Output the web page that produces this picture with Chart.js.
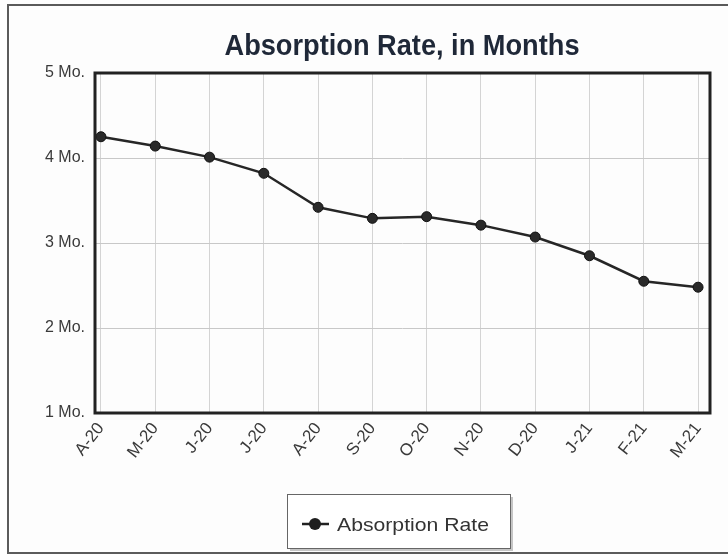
<!DOCTYPE html>
<html>
<head>
<meta charset="utf-8">
<script src="https://cdn.jsdelivr.net/npm/chart.js@4"></script>
<style>
  html, body { margin: 0; padding: 0; background: #fdfdfd; }
  #wrap { position: relative; width: 728px; height: 560px; overflow: hidden; }
  #frame { position: absolute; left: 7px; top: 4px; width: 740px; height: 550px; border: 2px solid #5a5a5a; box-sizing: border-box; }
  canvas { position: absolute; left: 0; top: 0; }
</style>
</head>
<body>
<div id="wrap">
  <div id="frame"></div>
  <canvas id="absorptionChart" width="728" height="560"></canvas>
</div>
<script>
// données
const months = ['A-20', 'M-20', 'J-20', 'J-20', 'A-20', 'S-20', 'O-20', 'N-20', 'D-20', 'J-21', 'F-21', 'M-21'];
const absorptionRate = [4.25, 4.14, 4.01, 3.82, 3.42, 3.29, 3.31, 3.21, 3.07, 2.85, 2.55, 2.48];
const yTicks = [1, 2, 3, 4, 5];

const chartTitle = 'Absorption Rate, in Months';
const seriesLabel = 'Absorption Rate';
const FONT = '"Liberation Sans", Arial, sans-serif';

// texte tassé horizontalement pour coller à la largeur voulue
function fitText(ctx, text, x, y, width) {
  const w = ctx.measureText(text).width;
  ctx.save();
  ctx.translate(x, y);
  ctx.scale(width / w, 1);
  ctx.fillText(text, 0, 0);
  ctx.restore();
}

// cadre épais + titre + légende encadrée
const framePlugin = {
  id: 'framePlugin',
  afterDraw(chart) {
    const { ctx, chartArea: a } = chart;
    ctx.save();
    ctx.strokeStyle = '#222';
    ctx.lineWidth = 3;
    ctx.strokeRect(a.left, a.top, a.right - a.left, a.bottom - a.top);

    ctx.fillStyle = '#1f2838';
    ctx.font = 'bold 29px ' + FONT;
    ctx.textAlign = 'center';
    ctx.textBaseline = 'alphabetic';
    fitText(ctx, chartTitle, 402, 55, 355);

    // légende
    const bx = 287, by = 494, bw = 223, bh = 54;
    ctx.fillStyle = 'rgba(0,0,0,0.22)';
    ctx.fillRect(bx + 3, by + 3, bw, bh);
    ctx.fillStyle = '#fff';
    ctx.fillRect(bx, by, bw, bh);
    ctx.strokeStyle = '#666';
    ctx.lineWidth = 1;
    ctx.strokeRect(bx + 0.5, by + 0.5, bw, bh);
    const cy = 524;
    ctx.strokeStyle = '#222';
    ctx.lineWidth = 2.5;
    ctx.beginPath();
    ctx.moveTo(302, cy);
    ctx.lineTo(329, cy);
    ctx.stroke();
    ctx.fillStyle = '#1e1e1e';
    ctx.beginPath();
    ctx.arc(315, cy, 6, 0, Math.PI * 2);
    ctx.fill();
    ctx.font = '19px ' + FONT;
    ctx.textAlign = 'left';
    ctx.fillStyle = '#333';
    fitText(ctx, seriesLabel, 337, 531, 152);
    ctx.restore();
  }
};

new Chart(document.getElementById('absorptionChart'), {
  type: 'line',
  data: {
    datasets: [{
      label: seriesLabel,
      data: absorptionRate.map((v, i) => ({ x: i, y: v })),
      borderColor: '#262626',
      backgroundColor: '#2a2a2a',
      borderWidth: 2.5,
      pointRadius: 5,
      pointBorderWidth: 1,
      pointBorderColor: '#111',
      tension: 0
    }]
  },
  options: {
    responsive: false,
    animation: false,
    layout: { padding: { top: 73, right: 18, left: 0, bottom: 0 } },
    plugins: { legend: { display: false }, title: { display: false }, tooltip: { enabled: false } },
    scales: {
      x: {
        type: 'linear',
        min: -0.11,
        max: 11.22,
        afterBuildTicks: s => { s.ticks = months.map((_, i) => ({ value: i })); },
        afterFit: s => { s.height = 147; },
        grid: { color: '#d4d4d4', lineWidth: 1, drawTicks: false },
        border: { display: false },
        ticks: {
          autoSkip: false,
          maxRotation: 52,
          minRotation: 52,
          padding: 6,
          color: '#3a3a3a',
          font: { family: FONT, size: 17 },
          callback: v => months[v]
        }
      },
      y: {
        min: 1,
        max: 5,
        afterBuildTicks: s => { s.ticks = yTicks.map(v => ({ value: v })); },
        afterFit: s => { s.width = 95; },
        grid: { color: '#c8c8c8', lineWidth: 1, drawTicks: false },
        border: { display: false },
        ticks: {
          padding: 10,
          color: '#3a3a3a',
          font: { family: FONT, size: 16 },
          callback: v => v + ' Mo.'
        }
      }
    }
  },
  plugins: [framePlugin]
});
</script>
</body>
</html>
